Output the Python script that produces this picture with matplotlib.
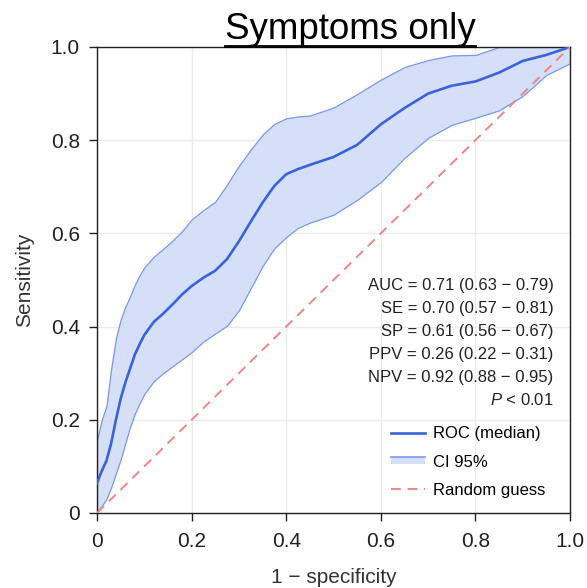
import numpy as np
import matplotlib
matplotlib.use("Agg")
import matplotlib.pyplot as plt
from matplotlib.lines import Line2D
from matplotlib.patches import Rectangle
from matplotlib.legend_handler import HandlerBase

plt.rcParams['font.family'] = ['Liberation Sans', 'DejaVu Sans']
plt.rcParams['mathtext.fontset'] = 'custom'
plt.rcParams['mathtext.it'] = 'Liberation Sans:italic'
plt.rcParams['mathtext.rm'] = 'Liberation Sans'

# ROC data (1 - specificity vs sensitivity)
fpr = [0, 0.01, 0.02, 0.03, 0.04, 0.05, 0.06, 0.07, 0.08, 0.09, 0.1, 0.12, 0.14, 0.16, 0.18,
       0.2, 0.225, 0.25, 0.275, 0.3, 0.325, 0.35, 0.375, 0.4, 0.425, 0.45, 0.5, 0.55,
       0.6, 0.65, 0.7, 0.75, 0.8, 0.85, 0.9, 0.95, 1.0]
tpr_median = [0.064, 0.09, 0.112, 0.15, 0.2, 0.245, 0.28, 0.31, 0.34, 0.362, 0.382, 0.41,
              0.428, 0.448, 0.469, 0.487, 0.505, 0.52, 0.545, 0.583, 0.625, 0.666, 0.702,
              0.727, 0.738, 0.747, 0.764, 0.79, 0.834, 0.869, 0.9, 0.917, 0.926, 0.945,
              0.97, 0.983, 1.0]
tpr_upper = [0.157, 0.2, 0.23, 0.31, 0.375, 0.415, 0.443, 0.465, 0.49, 0.51, 0.527, 0.55,
             0.567, 0.585, 0.605, 0.63, 0.65, 0.668, 0.705, 0.745, 0.78, 0.812, 0.835,
             0.847, 0.851, 0.853, 0.87, 0.899, 0.93, 0.957, 0.972, 0.982, 0.983, 1.0,
             1.0, 1.0, 1.0]
tpr_lower = [0.003, 0.015, 0.03, 0.055, 0.085, 0.115, 0.15, 0.185, 0.213, 0.235, 0.255, 0.283,
             0.3, 0.315, 0.33, 0.345, 0.368, 0.385, 0.402, 0.435, 0.482, 0.53, 0.568,
             0.592, 0.612, 0.623, 0.64, 0.672, 0.71, 0.762, 0.805, 0.833, 0.848, 0.864,
             0.895, 0.94, 0.965]

stats = ["AUC = 0.71 (0.63 \u2212 0.79)",
         "SE = 0.70 (0.57 \u2212 0.81)",
         "SP = 0.61 (0.56 \u2212 0.67)",
         "PPV = 0.26 (0.22 \u2212 0.31)",
         "NPV = 0.92 (0.88 \u2212 0.95)",
         "$P$ < 0.01"]
ticks = [0, 0.2, 0.4, 0.6, 0.8, 1.0]
tick_labels = ["0", "0.2", "0.4", "0.6", "0.8", "1.0"]

fill_col = '#d5dff7'
edge_col = '#7b97e8'


class HandlerCI(HandlerBase):
    # light band with its edge line on top, as in the reference legend
    def create_artists(self, legend, orig_handle, xdescent, ydescent,
                       width, height, fontsize, trans):
        y0 = -ydescent + height * 0.2
        h = height * 0.6
        rect = Rectangle((-xdescent, y0), width, h, facecolor=fill_col,
                         edgecolor='none', transform=trans)
        line = Line2D([-xdescent, -xdescent + width], [y0 + h, y0 + h],
                      color=edge_col, lw=1.2, transform=trans)
        return [rect, line]


fig = plt.figure(figsize=(5.87, 5.88), dpi=100)
ax = fig.add_axes([97 / 587, 75 / 588, 473 / 587, 466 / 588])

ci = ax.fill_between(fpr, tpr_lower, tpr_upper, facecolor=fill_col,
                     edgecolor=edge_col, linewidth=0.9, zorder=2)
roc, = ax.plot(fpr, tpr_median, color='#3a63d8', lw=1.9, zorder=3)
rnd, = ax.plot([0, 1], [0, 1], color='#f08585', lw=1.4,
               linestyle=(0, (5, 3.5)), zorder=4)

ax.set_xlim(0, 1)
ax.set_ylim(0, 1)
ax.set_xticks(ticks)
ax.set_xticklabels(tick_labels)
ax.set_yticks(ticks)
ax.set_yticklabels(tick_labels)
ax.grid(True, color='#ebebeb', lw=1)
ax.set_axisbelow(True)
ax.tick_params(direction='out', length=5.5, width=1, labelsize=15,
               colors='#222222')
ax.tick_params(axis='x', pad=8.5)
ax.tick_params(axis='y', pad=6.8)
for s in ax.spines.values():
    s.set_color('#222222')
    s.set_linewidth(1)
ax.set_xlabel("1 \u2212 specificity", fontsize=15, color='#333333', labelpad=12)
ax.set_ylabel("Sensitivity", fontsize=15, color='#333333', labelpad=12)

# statistics block
for i, s in enumerate(stats):
    ax.text(0.965, 0.489 - i * 0.0495, s, transform=ax.transAxes,
            ha='right', va='center', fontsize=12, color='#222222')

ax.legend([roc, ci, rnd], ["ROC (median)", "CI 95%", "Random guess"],
          handler_map={type(ci): HandlerCI()},
          loc='lower right', bbox_to_anchor=(0.98, 0.0), frameon=False,
          fontsize=12, handlelength=2.0, handletextpad=0.5, labelspacing=0.8)

# underlined title
t = fig.text(350 / 587, 1 - 39 / 588, "Symptoms only", ha='center',
             va='baseline', fontsize=26.5, color='black')
fig.canvas.draw()
bb = t.get_window_extent().transformed(fig.transFigure.inverted())
fig.add_artist(Line2D([bb.x0, bb.x1], [1 - 45.5 / 588] * 2,
                      color='black', lw=2, transform=fig.transFigure))

fig.savefig("out.png", dpi=100)
